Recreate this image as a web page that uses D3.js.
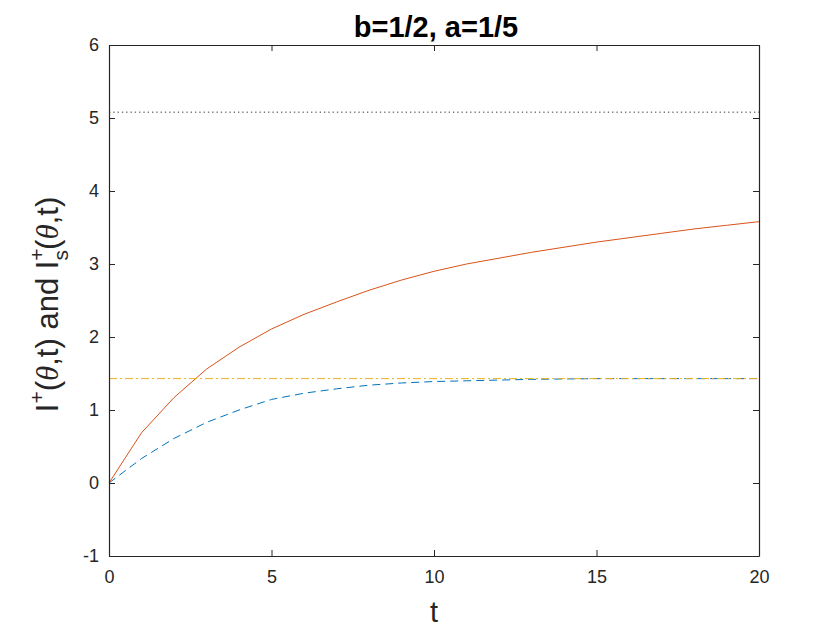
<!DOCTYPE html>
<html>
<head>
<meta charset="utf-8">
<script src="https://cdn.jsdelivr.net/npm/d3@7"></script>
<style>
  html, body { margin: 0; padding: 0; background: #fff; }
  svg { display: block; font-family: "Liberation Sans", Arial, Helvetica, sans-serif; }
</style>
</head>
<body>
<svg id="chart" width="840" height="630"></svg>
<script>
// ---- data ----
const tValues = [0, 1, 2, 3, 4, 5, 6, 7, 8, 9, 10, 11, 12, 13, 14, 15, 16, 17, 18, 19, 20];
const iPlus = [0, 0.688, 1.17, 1.56, 1.86, 2.11, 2.31, 2.48, 2.64, 2.78, 2.90, 3.00, 3.08, 3.16, 3.23, 3.30, 3.36, 3.42, 3.48, 3.53, 3.58];
const iPlusS = [0, 0.335, 0.61, 0.83, 1.00, 1.145, 1.23, 1.29, 1.34, 1.37, 1.39, 1.40, 1.41, 1.42, 1.425, 1.43, 1.43, 1.43, 1.43, 1.43, 1.43];
const upperLevel = 5.08;
const steadyLevel = 1.43;
const xTicks = [0, 5, 10, 15, 20];
const yTicks = [-1, 0, 1, 2, 3, 4, 5, 6];
const titleText = "b=1/2, a=1/5";

// ---- layout ----
const svg = d3.select("#chart");
const pL = 109, pR = 759, pT = 45, pB = 556;
const x = d3.scaleLinear().domain([0, 20]).range([pL, pR]);
const y = d3.scaleLinear().domain([-1, 6]).range([pB, pT]);
const axisColor = "#262626";
const fmt = d => String(d);

// series lines
const line = d3.line().x((d, i) => x(tValues[i])).y(d => y(d));

svg.append("path").datum(iPlusS)
  .attr("d", line).attr("fill", "none")
  .attr("stroke", "#0072BD").attr("stroke-width", 1)
  .attr("stroke-dasharray", "8,5");

svg.append("path").datum(iPlus)
  .attr("d", line).attr("fill", "none")
  .attr("stroke", "#D95319").attr("stroke-width", 1);

// horizontal reference lines
svg.append("line")
  .attr("x1", x(0)).attr("x2", x(20))
  .attr("y1", y(steadyLevel)).attr("y2", y(steadyLevel))
  .attr("stroke", "#EDB120").attr("stroke-width", 1)
  .attr("stroke-dasharray", "8,3,2,3");

svg.append("line")
  .attr("x1", x(0)).attr("x2", x(20))
  .attr("y1", y(upperLevel)).attr("y2", y(upperLevel))
  .attr("stroke", "#333").attr("stroke-width", 1)
  .attr("stroke-dasharray", "1.3,3");

// axes (box with inward ticks on all sides)
const tickLen = 6;
const gB = svg.append("g").attr("transform", `translate(0,${pB})`)
  .call(d3.axisBottom(x).tickValues(xTicks).tickSizeInner(-tickLen).tickSizeOuter(0).tickPadding(14).tickFormat(fmt));
const gT = svg.append("g").attr("transform", `translate(0,${pT})`)
  .call(d3.axisTop(x).tickValues(xTicks).tickSizeInner(-tickLen).tickSizeOuter(0).tickFormat(""));
const gL = svg.append("g").attr("transform", `translate(${pL},0)`)
  .call(d3.axisLeft(y).tickValues(yTicks).tickSizeInner(-tickLen).tickSizeOuter(0).tickPadding(10).tickFormat(fmt));
const gR = svg.append("g").attr("transform", `translate(${pR},0)`)
  .call(d3.axisRight(y).tickValues(yTicks).tickSizeInner(-tickLen).tickSizeOuter(0).tickFormat(""));

[gB, gT, gL, gR].forEach(g => {
  g.select(".domain").attr("stroke", axisColor).attr("stroke-width", 1.2);
  g.selectAll(".tick line").attr("stroke", axisColor).attr("stroke-width", 1);
  g.selectAll(".tick text").attr("fill", axisColor)
    .style("font-family", "'Liberation Sans', Arial, sans-serif").style("font-size", "18px");
});

// title
svg.append("text")
  .attr("x", (pL + pR) / 2 + 2).attr("y", 37)
  .attr("text-anchor", "middle")
  .style("font-size", "29px").style("font-weight", "bold")
  .attr("fill", "#000")
  .text(titleText);

// x label
svg.append("text")
  .attr("x", (pL + pR) / 2).attr("y", 622)
  .attr("text-anchor", "middle")
  .style("font-size", "29px").attr("fill", axisColor)
  .text("t");

// y label with super/subscripts
const yl = svg.append("text")
  .attr("transform", `translate(58,${(pT + pB) / 2 + 4}) rotate(-90)`)
  .attr("text-anchor", "middle")
  .style("font-size", "31px").attr("fill", axisColor);
yl.append("tspan").text("I");
yl.append("tspan").attr("dy", -14).style("font-size", "21px").text("+");
yl.append("tspan").attr("dy", 14).text("(");
yl.append("tspan").style("font-style", "italic").style("font-family", "'Liberation Serif', 'Times New Roman', serif").text("θ");
yl.append("tspan").text(",t) and I");
yl.append("tspan").attr("dy", -14).style("font-size", "21px").text("+");
yl.append("tspan").attr("dx", -12).attr("dy", 24).style("font-size", "21px").text("s");
yl.append("tspan").attr("dy", -10).text("(");
yl.append("tspan").style("font-style", "italic").style("font-family", "'Liberation Serif', 'Times New Roman', serif").text("θ");
yl.append("tspan").text(",t)");
</script>
</body>
</html>
